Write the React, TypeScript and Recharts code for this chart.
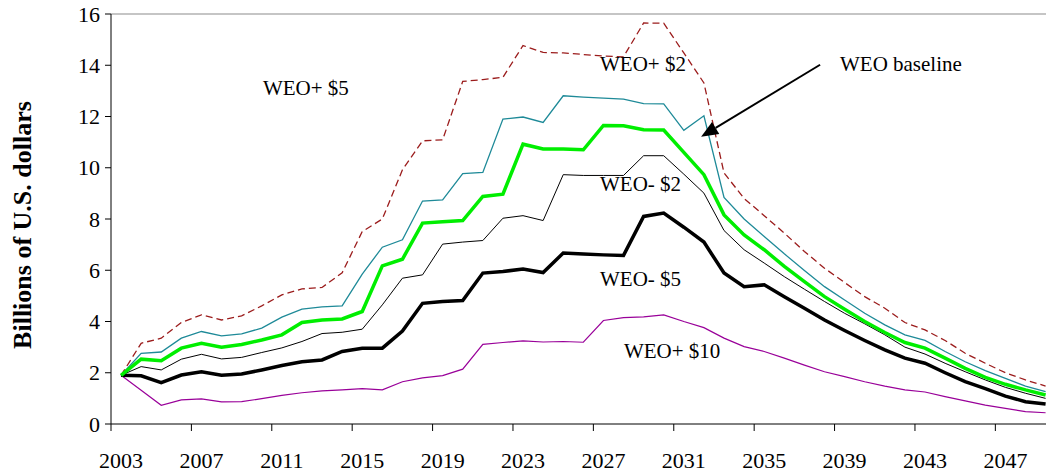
import { LineChart, Line, XAxis, YAxis, ReferenceLine, ReferenceDot } from "recharts";

const years = [
  2003, 2004, 2005, 2006, 2007, 2008, 2009, 2010, 2011, 2012,
  2013, 2014, 2015, 2016, 2017, 2018, 2019, 2020, 2021, 2022,
  2023, 2024, 2025, 2026, 2027, 2028, 2029, 2030, 2031, 2032,
  2033, 2034, 2035, 2036, 2037, 2038, 2039, 2040, 2041, 2042,
  2043, 2044, 2045, 2046, 2047, 2048, 2049,
];

// dashed dark red, top line
const plus5 = [
  1.9, 3.15, 3.35, 3.96, 4.26, 4.06, 4.22, 4.61, 5.04, 5.27,
  5.33, 5.9, 7.51, 8.0, 9.92, 11.05, 11.09, 13.37, 13.44, 13.53,
  14.77, 14.5, 14.48, 14.42, 14.36, 14.33, 15.65, 15.64, 14.48, 13.31,
  9.8, 8.8, 8.13, 7.45, 6.73, 6.08, 5.52, 4.97, 4.52, 3.96,
  3.67, 3.26, 2.76, 2.37, 2.0, 1.72, 1.48,
];

// teal
const plus2 = [
  1.9, 2.76, 2.81, 3.35, 3.61, 3.44, 3.52, 3.74, 4.17, 4.48,
  4.57, 4.61, 5.85, 6.9, 7.19, 8.7, 8.75, 9.77, 9.82, 11.9,
  11.98, 11.77, 12.81, 12.76, 12.72, 12.68, 12.5, 12.49, 11.46, 12.03,
  8.84, 8.0, 7.32, 6.64, 5.99, 5.36, 4.84, 4.32, 3.87, 3.48,
  3.26, 2.83, 2.43, 2.08, 1.78, 1.48, 1.26,
];

// bright green, WEO baseline
const baseline = [
  1.9, 2.53, 2.47, 2.96, 3.15, 3.0, 3.1, 3.28, 3.48, 3.96,
  4.06, 4.1, 4.39, 6.17, 6.43, 7.84, 7.89, 7.94, 8.88, 8.97,
  10.92, 10.73, 10.73, 10.7, 11.65, 11.64, 11.48, 11.47, 10.6, 9.73,
  8.16, 7.38, 6.8, 6.15, 5.56, 4.97, 4.48, 4.0, 3.57, 3.18,
  2.96, 2.57, 2.17, 1.82, 1.55, 1.33, 1.13,
];

// thin black
const minus2 = [
  1.9, 2.24, 2.11, 2.53, 2.72, 2.54, 2.6, 2.79, 2.97, 3.22,
  3.53, 3.58, 3.7, 4.65, 5.69, 5.82, 7.02, 7.1, 7.16, 8.03,
  8.13, 7.94, 9.73, 9.7, 9.7, 9.7, 10.47, 10.47, 9.75, 9.01,
  7.55, 6.8, 6.28, 5.75, 5.26, 4.78, 4.32, 3.91, 3.48, 3.0,
  2.73, 2.37, 2.04, 1.72, 1.43, 1.2, 1.0,
];

// thick black
const minus5 = [
  1.9, 1.88, 1.61, 1.91, 2.04, 1.9, 1.95, 2.11, 2.28, 2.43,
  2.5, 2.83, 2.96, 2.96, 3.63, 4.71, 4.78, 4.82, 5.89, 5.95,
  6.05, 5.91, 6.67, 6.63, 6.6, 6.58, 8.1, 8.23, 7.68, 7.1,
  5.89, 5.36, 5.43, 4.97, 4.52, 4.06, 3.65, 3.26, 2.89, 2.57,
  2.37, 2.0, 1.65, 1.38, 1.09, 0.87, 0.78,
];

// purple
const plus10 = [
  1.9, 1.32, 0.73, 0.94, 0.98, 0.86, 0.87, 0.99, 1.12, 1.22,
  1.29, 1.33, 1.38, 1.33, 1.65, 1.8, 1.89, 2.14, 3.11, 3.18,
  3.24, 3.2, 3.22, 3.19, 4.04, 4.15, 4.18, 4.26, 4.0, 3.76,
  3.35, 3.02, 2.83, 2.57, 2.3, 2.04, 1.85, 1.65, 1.48, 1.33,
  1.25, 1.07, 0.9, 0.74, 0.61, 0.48, 0.44,
];

const labelYears = [2003, 2007, 2011, 2015, 2019, 2023, 2027, 2031, 2035, 2039, 2043, 2047];
const yTicks = [0, 2, 4, 6, 8, 10, 12, 14, 16];

// text annotations: left edge year, baseline value
const notes = [
  { text: "WEO+ $5", x: 2010.06, y: 12.85 },
  { text: "WEO+ $2", x: 2026.83, y: 13.79 },
  { text: "WEO baseline", x: 2038.77, y: 13.79 },
  { text: "WEO- $2", x: 2026.83, y: 9.1 },
  { text: "WEO- $5", x: 2026.83, y: 5.39 },
  { text: "WEO+ $10", x: 2028.02, y: 2.58 },
];

const arrowTail = { x: 2037.78, y: 14.02 };
const arrowTip = { x: 2031.86, y: 11.21 };

const FONT = "'Liberation Serif', 'Times New Roman', serif";
const X_DOMAIN: [number, number] = [2002.5, 2049.02];

// Excel-style category axis: tick marks sit between categories
const boundaryTicks = labelYears.map((y) => y - 0.5);

const data = years.map((year, i) => ({
  year,
  plus5: plus5[i],
  plus2: plus2[i],
  baseline: baseline[i],
  minus2: minus2[i],
  minus5: minus5[i],
  plus10: plus10[i],
}));

function YearTick(props: any) {
  const { x, y, payload } = props;
  return (
    <text x={x} y={y + 32} textAnchor="middle" fontSize={22} fontFamily={FONT} fill="#000">
      {payload.value}
    </text>
  );
}

function ValueTick(props: any) {
  const { x, y, payload } = props;
  return (
    <text x={x} y={y + 7.5} textAnchor="end" fontSize={22} fontFamily={FONT} fill="#000">
      {payload.value}
    </text>
  );
}

function Arrow(props: any) {
  const { x1, y1, x2, y2 } = props;
  const dx = x2 - x1;
  const dy = y2 - y1;
  const len = Math.sqrt(dx * dx + dy * dy);
  const ux = dx / len;
  const uy = dy / len;
  const headLen = 17;
  const headHalf = 7;
  const bx = x2 - ux * headLen;
  const by = y2 - uy * headLen;
  const pts = `${x2},${y2} ${bx - uy * headHalf},${by + ux * headHalf} ${bx + uy * headHalf},${by - ux * headHalf}`;
  return (
    <g>
      <line x1={x1} y1={y1} x2={bx} y2={by} stroke="#000" strokeWidth={2} />
      <polygon points={pts} fill="#000" />
    </g>
  );
}

export default function App() {
  return (
    <div style={{ position: "absolute", left: 0, top: 0, width: 1046, height: 474, background: "#fff" }}>
      <LineChart width={1046} height={474} data={data} margin={{ top: 14, right: 0, bottom: 0, left: 0 }}>
        <XAxis
          xAxisId="cat"
          dataKey="year"
          type="number"
          domain={X_DOMAIN}
          allowDataOverflow
          ticks={boundaryTicks}
          interval={0}
          height={10}
          stroke="#000"
          tickSize={7}
          tick={() => <g />}
        />
        <XAxis
          xAxisId="lbl"
          dataKey="year"
          type="number"
          domain={X_DOMAIN}
          allowDataOverflow
          ticks={labelYears}
          interval={0}
          height={40}
          axisLine={false}
          tickLine={false}
          tickSize={0}
          tick={YearTick}
        />
        <YAxis
          domain={[0, 16]}
          ticks={yTicks}
          interval={0}
          width={111}
          stroke="#000"
          tickSize={6}
          tickMargin={5}
          tick={ValueTick}
          label={{
            content: ({ viewBox }: any) => {
              const cx = 22;
              const cy = viewBox.y + viewBox.height / 2 + 6;
              return (
                <text
                  x={cx}
                  y={cy}
                  transform={`rotate(-90 ${cx} ${cy})`}
                  textAnchor="middle"
                  dominantBaseline="central"
                  fontSize={26}
                  fontWeight="bold"
                  fontFamily={FONT}
                  fill="#000"
                >
                  Billions of U.S. dollars
                </text>
              );
            },
          }}
        />
        <ReferenceLine xAxisId="cat" y={16} stroke="#8c8c8c" strokeWidth={1.2} />

        <Line xAxisId="cat" dataKey="plus10" stroke="#990099" strokeWidth={1.2} dot={false} isAnimationActive={false} />
        <Line xAxisId="cat" dataKey="minus2" stroke="#000" strokeWidth={1} dot={false} isAnimationActive={false} />
        <Line xAxisId="cat" dataKey="plus2" stroke="#1e8a98" strokeWidth={1.3} dot={false} isAnimationActive={false} />
        <Line
          xAxisId="cat"
          dataKey="plus5"
          stroke="#9b1c1c"
          strokeWidth={1.3}
          strokeDasharray="7 4"
          dot={false}
          isAnimationActive={false}
        />
        <Line xAxisId="cat" dataKey="minus5" stroke="#000" strokeWidth={3.5} dot={false} isAnimationActive={false} />
        <Line xAxisId="cat" dataKey="baseline" stroke="#00ee00" strokeWidth={3.5} dot={false} isAnimationActive={false} />

        {notes.map((n) => (
          <ReferenceDot
            key={n.text}
            xAxisId="cat"
            x={n.x}
            y={n.y}
            r={0}
            ifOverflow="visible"
            shape={(p: any) => (
              <text x={p.cx} y={p.cy} fontSize={21} fontFamily={FONT} fill="#000">
                {n.text}
              </text>
            )}
          />
        ))}
        <ReferenceLine
          xAxisId="cat"
          segment={[arrowTail, arrowTip]}
          ifOverflow="visible"
          shape={Arrow}
        />
      </LineChart>
    </div>
  );
}
